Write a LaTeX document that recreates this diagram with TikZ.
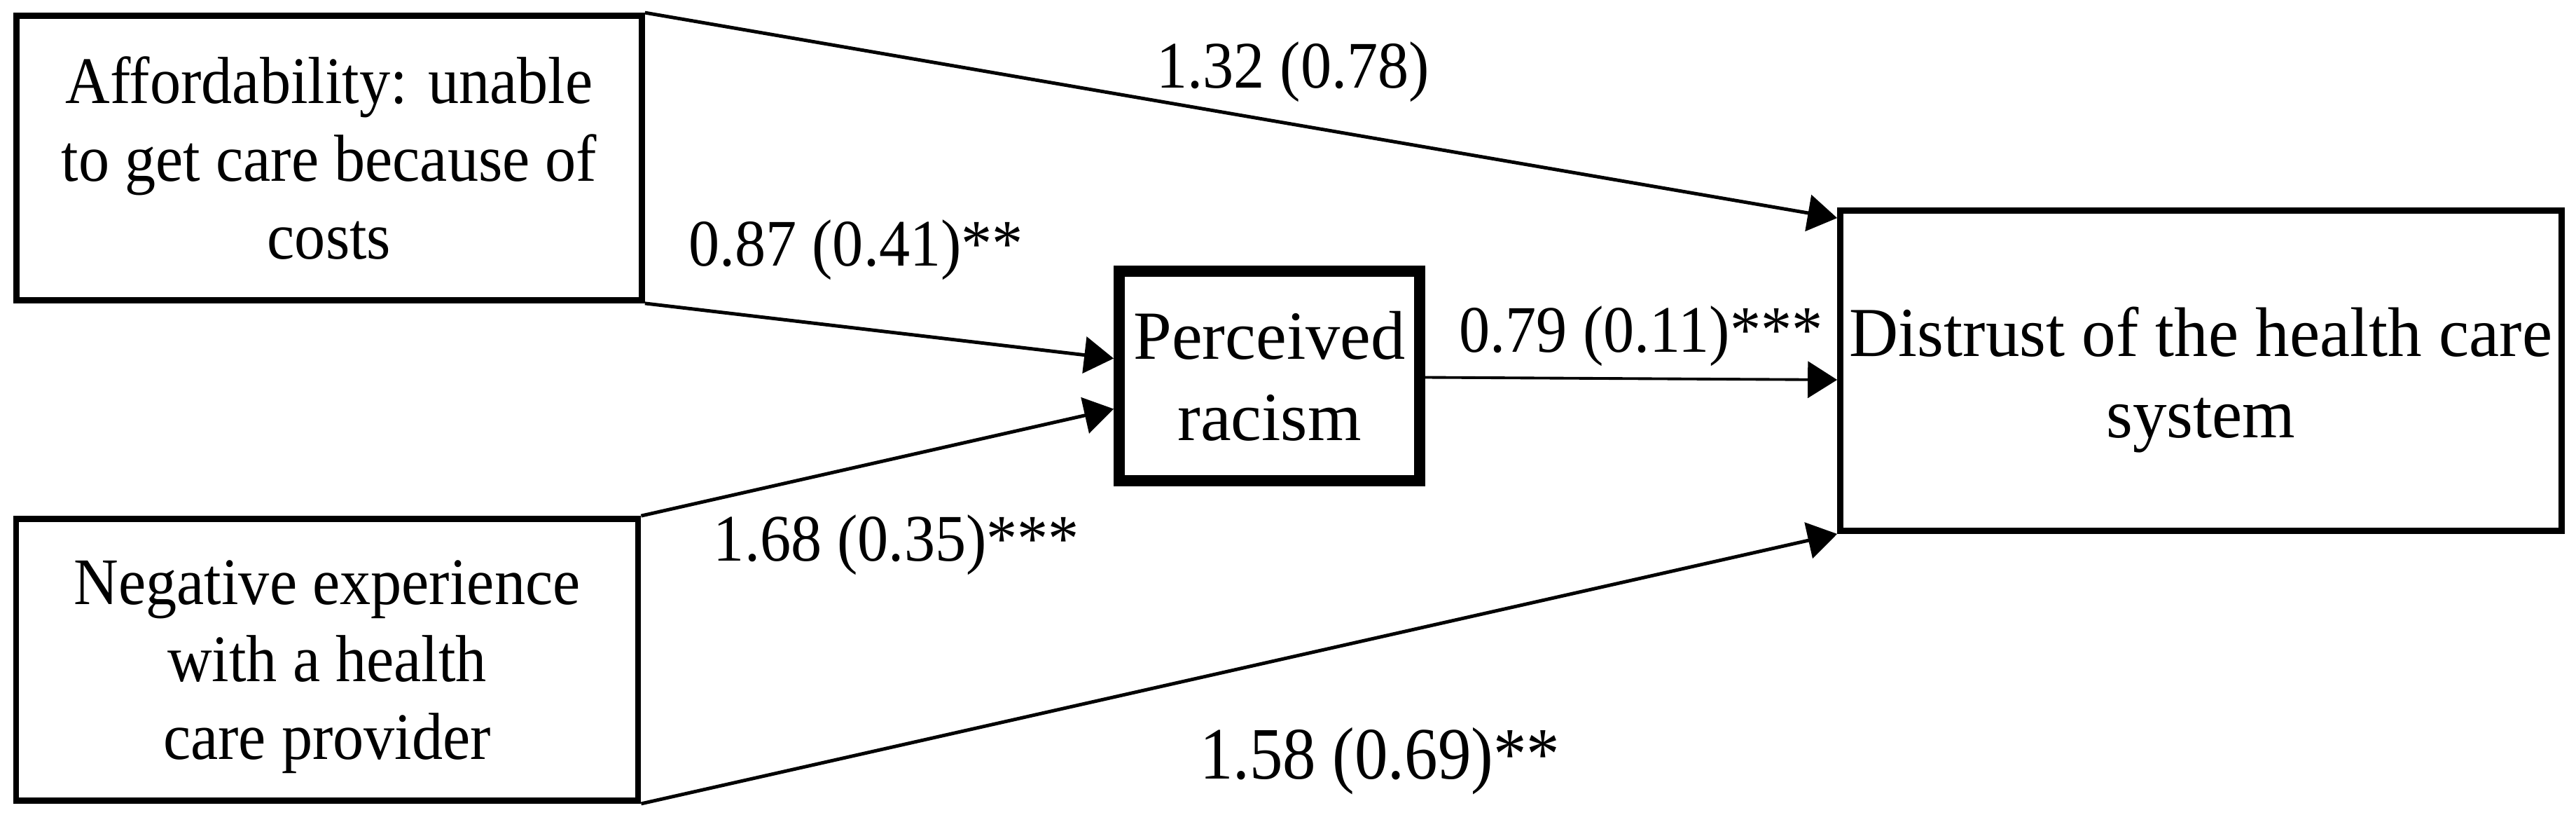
\documentclass[tikz,border=0pt]{standalone}
\usepackage{fontspec}
\setmainfont{Liberation Serif}
\newfontfamily\narrowfont{Liberation Serif}[FakeStretch=0.93]
\newfontfamily\outcomefont{Liberation Serif}[FakeStretch=0.97]
\newfontfamily\tallfont{Liberation Serif}[FakeStretch=0.9]
\usetikzlibrary{arrows.meta,positioning,calc}

\begin{document}
\begin{tikzpicture}[
    varbox/.style={draw, line width=2.5pt, rectangle, align=center, inner sep=0pt,
        font=\narrowfont\fontsize{27}{31.5}\selectfont},
    medbox/.style={varbox, line width=4.5pt, font=\fontsize{28}{33}\selectfont},
    boxtext/.style={align=center, inner sep=0pt, font=\narrowfont\fontsize{27}{31.5}\selectfont},
    outtext/.style={align=center, inner sep=0pt, font=\outcomefont\fontsize{28.5}{33}\selectfont},
    path/.style={line width=1.4pt, -{Triangle[length=0.42cm,width=0.52cm]}},
    coef/.style={font=\narrowfont\fontsize{27}{31}\selectfont}
]
    \useasboundingbox (0,0) rectangle (36.78,11.62);

    % Predictors
    \node[varbox, minimum width=8.93cm, minimum height=4.06cm] (afford) at (4.70,9.365)
        {Affordability: unable\\to get care because of\\costs};
    \node[varbox, minimum width=8.88cm, minimum height=4.02cm] (negexp) at (4.67,2.205) {};
    \node[boxtext] (negexptext) at ([yshift=-0.1cm]negexp.center)
        {Negative experience\\with a health\\care provider};

    % Mediator and outcome
    \node[medbox, minimum width=4.29cm, minimum height=2.99cm] (racism) at (18.125,6.255)
        {Perceived\\racism};
    \node[varbox, minimum width=10.30cm, minimum height=4.57cm] (distrust) at (31.425,6.33) {};
    \node[outtext] (distrusttext) at ([yshift=-0.13cm]distrust.center)
        {Distrust of the health care\\system};

    % Paths
    \draw[path] (afford.north east) -- ([yshift=-0.15cm]distrust.north west);
    \draw[path] (afford.south east) -- ([yshift=0.25cm]racism.west);
    \draw[path] (negexp.north east) -- ([yshift=-0.47cm]racism.west);
    \draw[path, line width=1.1pt] ([yshift=-0.02cm]racism.east) -- ([yshift=-0.13cm]distrust.west);
    \draw[path] (negexp.south east) -- (distrust.south west);

    % Coefficients
    \node[coef] (c1) at (18.46,10.59) {1.32 (0.78)};
    \node[coef] (c2) at (12.22,8.05) {0.87 (0.41)**};
    \node[coef] (c3) at (23.43,6.82) {0.79 (0.11)***};
    \node[coef] (c4) at (12.80,3.84) {1.68 (0.35)***};
    \node[coef, font=\tallfont\fontsize{30}{34}\selectfont] (c5) at (19.70,0.76) {1.58 (0.69)**};
\end{tikzpicture}
\end{document}
